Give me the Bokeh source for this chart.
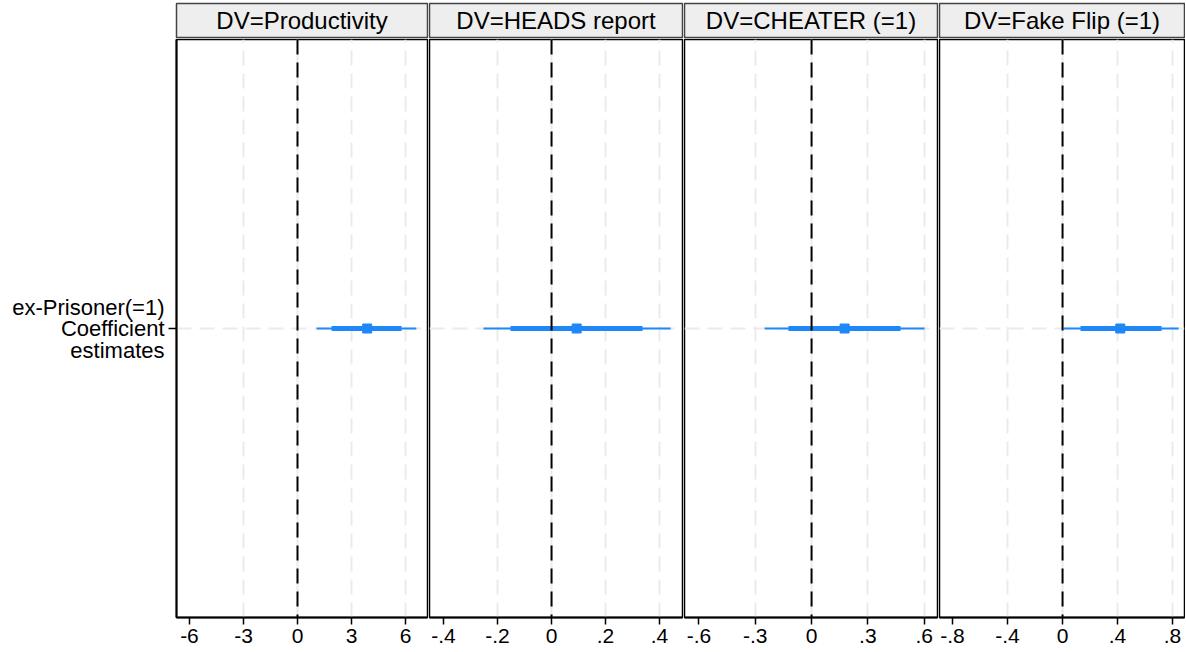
from bokeh.plotting import figure
from bokeh.models import Range1d, FixedTicker, Span, Label
from bokeh.layouts import column, row
from bokeh.embed import file_html
from bokeh.resources import INLINE

# ---- data ----
panel_titles = ["DV=Productivity", "DV=HEADS report", "DV=CHEATER (=1)", "DV=Fake Flip (=1)"]
row_label = "ex-Prisoner(=1)\nCoefficient\nestimates"
estimate = [3.87, 0.093, 0.176, 0.42]
ci90_low = [1.89, -0.152, -0.123, 0.131]
ci90_high = [5.78, 0.337, 0.474, 0.72]
ci95_low = [1.06, -0.252, -0.25, 0.007]
ci95_high = [6.6, 0.441, 0.602, 0.844]
tick_values = [[-6, -3, 0, 3, 6], [-0.4, -0.2, 0, 0.2, 0.4], [-0.6, -0.3, 0, 0.3, 0.6], [-0.8, -0.4, 0, 0.4, 0.8]]
tick_labels = [["-6", "-3", "0", "3", "6"], ["-.4", "-.2", "0", ".2", ".4"],
               ["-.6", "-.3", "0", ".3", ".6"], ["-.8", "-.4", "0", ".4", ".8"]]

# ---- layout ----
x_ranges = [(-6.72, 7.22), (-0.452, 0.485), (-0.677, 0.671), (-0.895, 0.887)]
widths = [428, 255, 255, 247]
left_borders = [176, 1, 1, 1]
FONT = "Liberation Sans"
BLUE = "#1E88F8"
GRID = "#EBEBEB"

headers = []
panels = []
for i in range(4):
    h = figure(width=widths[i], height=38, x_range=Range1d(0, 1), y_range=Range1d(0, 1),
               output_backend="svg", toolbar_location=None,
               min_border_left=left_borders[i], min_border_right=1,
               min_border_top=3, min_border_bottom=1)
    h.axis.visible = False
    h.grid.visible = False
    h.background_fill_color = "#EEEEEE"
    h.border_fill_color = "white"
    h.outline_line_color = "#444444"
    h.outline_line_width = 1.5
    h.add_layout(Label(x=0.5, y=0.5, text=panel_titles[i], text_align="center",
                       text_baseline="middle", text_font=FONT, text_font_size="24px",
                       text_color="black"))
    headers.append(h)

    p = figure(width=widths[i], height=614, x_range=Range1d(*x_ranges[i]), y_range=Range1d(-1, 1),
               output_backend="svg", toolbar_location=None,
               min_border_left=left_borders[i], min_border_right=1,
               min_border_top=1, min_border_bottom=35)
    p.background_fill_color = "white"
    p.border_fill_color = "white"
    p.outline_line_color = "black"
    p.outline_line_width = 1.5

    # x axis
    xa = p.xaxis[0]
    xa.ticker = FixedTicker(ticks=tick_values[i])
    xa.major_label_overrides = {v: l for v, l in zip(tick_values[i], tick_labels[i])}
    xa.axis_line_color = "black"
    xa.axis_line_width = 2
    xa.major_tick_line_color = "black"
    xa.major_tick_line_width = 1.5
    xa.major_tick_out = 7
    xa.major_tick_in = 0
    xa.minor_tick_line_color = None
    xa.major_label_text_font = FONT
    xa.major_label_text_font_size = "21px"
    xa.major_label_text_color = "black"
    xa.major_label_standoff = 4

    # y axis
    ya = p.yaxis[0]
    if i == 0:
        ya.ticker = FixedTicker(ticks=[0])
        ya.major_label_overrides = {0: row_label}
        ya.axis_line_color = "black"
        ya.axis_line_width = 2
        ya.major_tick_line_color = "black"
        ya.major_tick_line_width = 1.5
        ya.major_tick_out = 8
        ya.major_tick_in = 0
        ya.minor_tick_line_color = None
        ya.major_label_text_font = FONT
        ya.major_label_text_font_size = "22px"
        ya.major_label_text_color = "black"
        ya.major_label_text_line_height = 0.86
        ya.major_label_standoff = 4
    else:
        ya.visible = False

    # grids
    p.xgrid.ticker = FixedTicker(ticks=tick_values[i][1:])
    p.xgrid.grid_line_color = GRID
    p.xgrid.grid_line_width = 2
    p.xgrid.grid_line_dash = "15 8"
    p.ygrid.ticker = FixedTicker(ticks=[0])
    p.ygrid.grid_line_color = GRID
    p.ygrid.grid_line_width = 2
    p.ygrid.grid_line_dash = "15 8"

    p.add_layout(Span(location=0, dimension="height", line_color="black",
                      line_width=2, line_dash="15 8"))

    p.segment(x0=[ci95_low[i]], y0=[0], x1=[ci95_high[i]], y1=[0], line_color=BLUE, line_width=2)
    p.segment(x0=[ci90_low[i]], y0=[0], x1=[ci90_high[i]], y1=[0], line_color=BLUE, line_width=5)
    p.scatter(x=[estimate[i]], y=[0], marker="square", size=9, fill_color=BLUE, line_color=BLUE)
    panels.append(p)

layout = column(row(*headers, spacing=0), row(*panels, spacing=0), spacing=0)
open("out.html", "w").write(file_html(layout, INLINE))
